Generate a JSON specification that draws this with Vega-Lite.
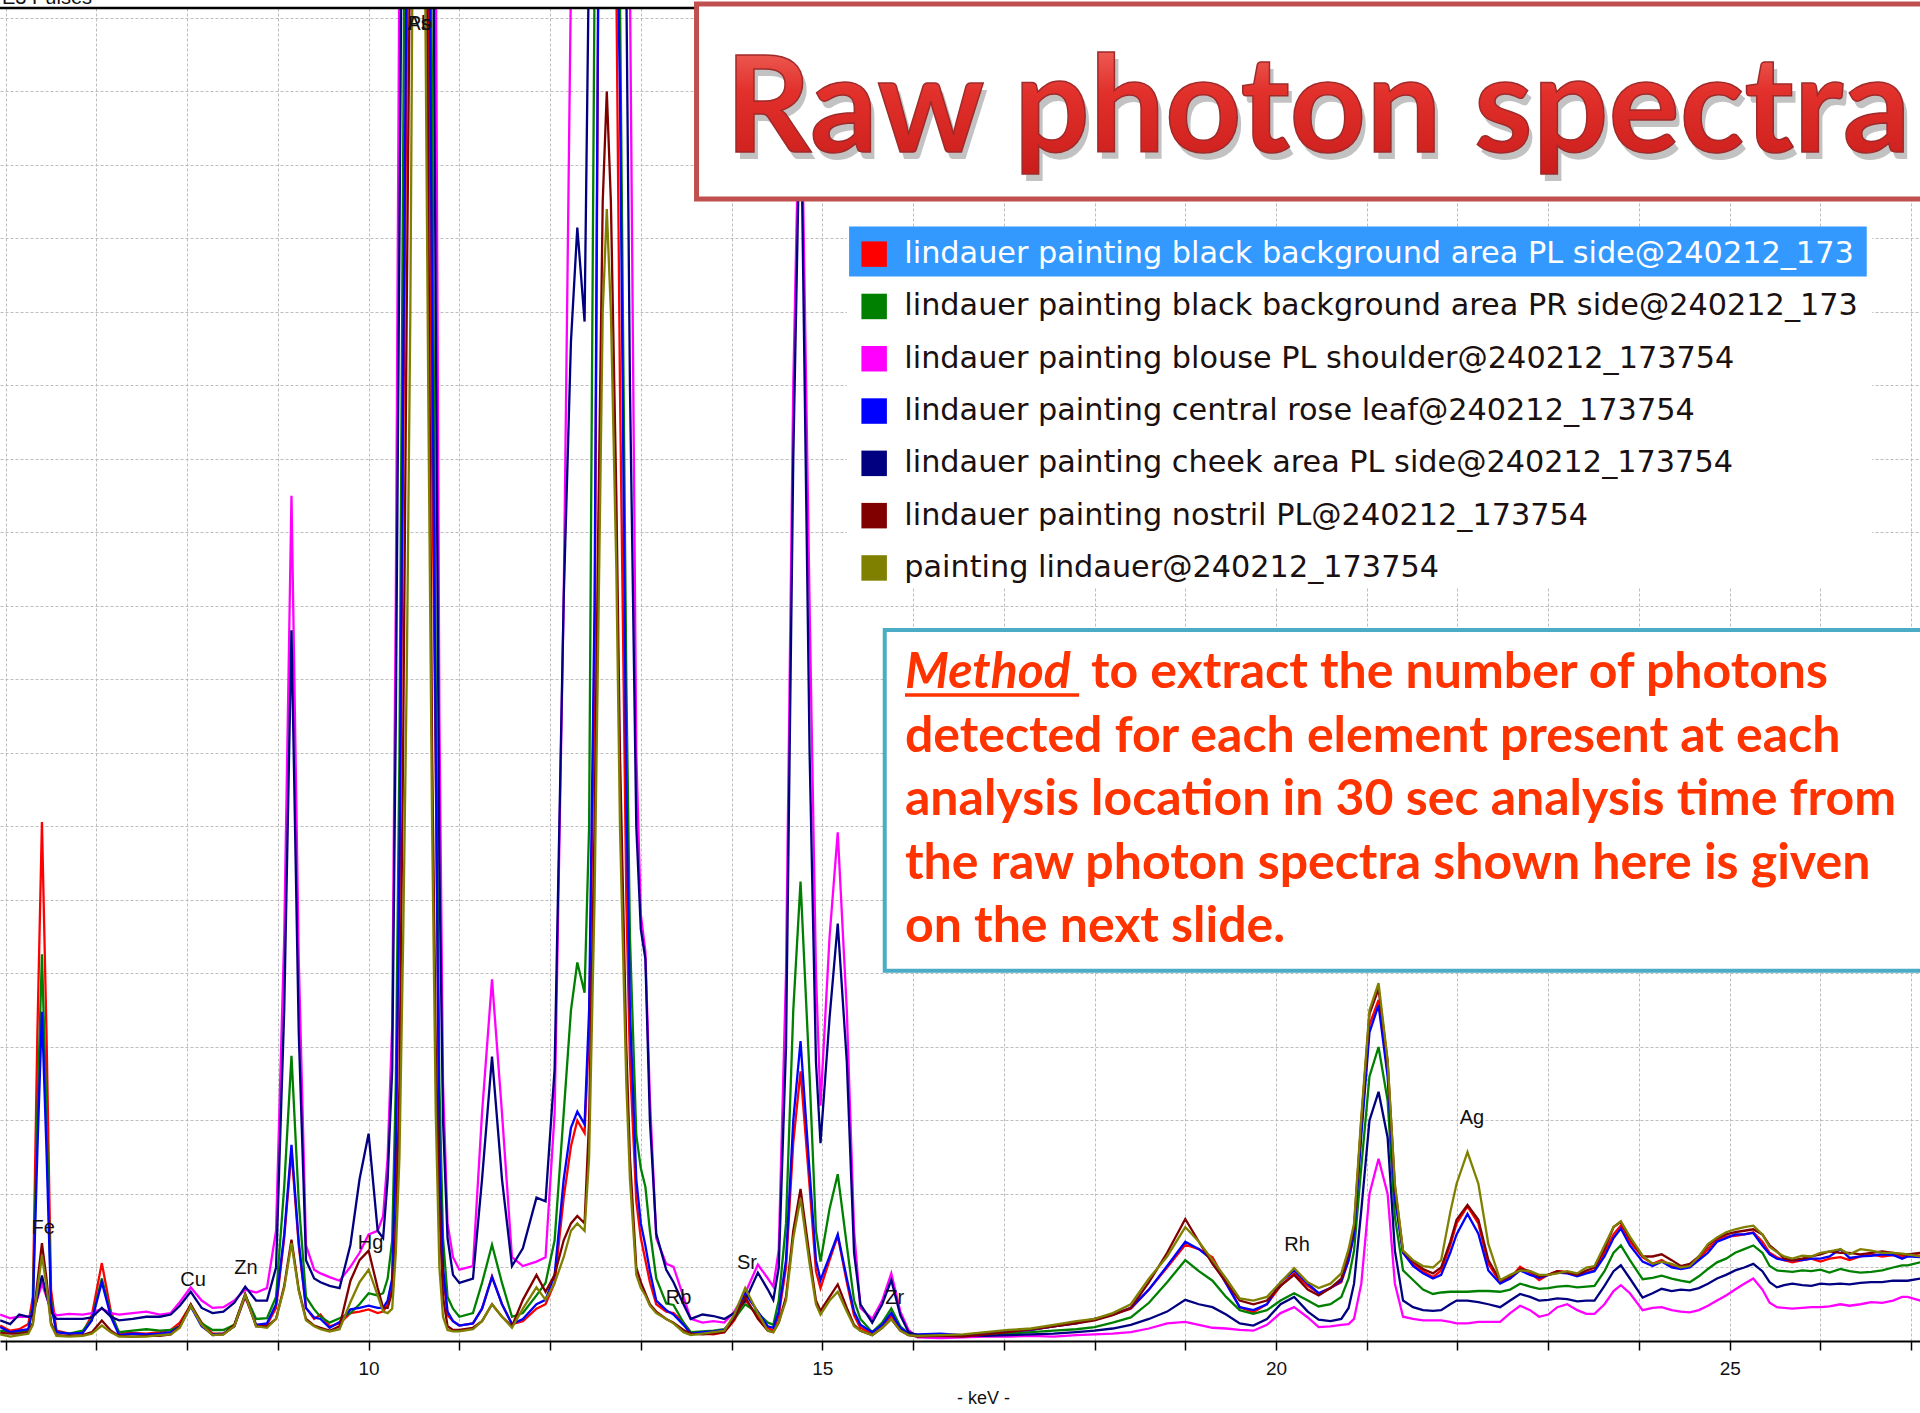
{
"$schema": "https://vega.github.io/schema/vega-lite/v6.json",
"width": 1920, "height": 1333,
"autosize": {"type": "none"},
"padding": {"left": 0, "top": 8, "right": 0, "bottom": 72},
"background": "white",
"config": {"view": {"stroke": null}},
"datasets": {
"series": [
{"k":"R","name":"lindauer painting black background area PL side@240212_173754"},
{"k":"G","name":"lindauer painting black background area PR side@240212_173754"},
{"k":"M","name":"lindauer painting blouse PL shoulder@240212_173754"},
{"k":"B","name":"lindauer painting central rose leaf@240212_173754"},
{"k":"N","name":"lindauer painting cheek area PL side@240212_173754"},
{"k":"Mr","name":"lindauer painting nostril PL@240212_173754"},
{"k":"O","name":"painting lindauer@240212_173754"}
],
"elements": [
{"el":"Fe","kev":6.414,"cnt":1.537},
{"el":"Cu","kev":8.065,"cnt":0.83},
{"el":"Zn","kev":8.649,"cnt":0.993},
{"el":"Hg","kev":10.021,"cnt":1.333},
{"el":"Rb","kev":13.416,"cnt":0.585},
{"el":"Sr","kev":14.17,"cnt":1.061},
{"el":"Zr","kev":15.797,"cnt":0.585},
{"el":"Rh","kev":20.231,"cnt":1.306},
{"el":"Ag","kev":22.16,"cnt":3.034},
{"el":"As","kev":10.555,"cnt":17.918},
{"el":"Pb","kev":10.565,"cnt":17.918}
],
"spec": [
{"e":5.94,"R":0.21,"G":0.14,"M":0.36,"B":0.19,"N":0.28,"Mr":0.11,"O":0.09},
{"e":6.05,"R":0.14,"G":0.12,"M":0.31,"B":0.12,"N":0.23,"Mr":0.10,"O":0.06},
{"e":6.15,"R":0.16,"G":0.12,"M":0.33,"B":0.14,"N":0.36,"Mr":0.10,"O":0.08},
{"e":6.25,"R":0.23,"G":0.14,"M":0.33,"B":0.16,"N":0.33,"Mr":0.12,"O":0.10},
{"e":6.30,"R":0.60,"G":0.50,"M":0.38,"B":0.45,"N":0.35,"Mr":0.25,"O":0.22},
{"e":6.35,"R":4.2,"G":3.1,"M":0.58,"B":2.6,"N":0.60,"Mr":0.80,"O":0.70},
{"e":6.40,"R":7.06,"G":5.26,"M":0.78,"B":4.48,"N":0.89,"Mr":1.33,"O":1.16},
{"e":6.45,"R":4.2,"G":3.1,"M":0.60,"B":2.6,"N":0.62,"Mr":0.85,"O":0.75},
{"e":6.50,"R":0.70,"G":0.55,"M":0.42,"B":0.50,"N":0.40,"Mr":0.25,"O":0.22},
{"e":6.56,"R":0.14,"G":0.12,"M":0.35,"B":0.12,"N":0.30,"Mr":0.08,"O":0.07},
{"e":6.70,"R":0.10,"G":0.10,"M":0.37,"B":0.10,"N":0.30,"Mr":0.07,"O":0.06},
{"e":6.85,"R":0.12,"G":0.14,"M":0.36,"B":0.11,"N":0.30,"Mr":0.08,"O":0.07},
{"e":6.95,"R":0.35,"G":0.30,"M":0.38,"B":0.28,"N":0.32,"Mr":0.12,"O":0.10},
{"e":7.06,"R":1.06,"G":0.85,"M":0.44,"B":0.80,"N":0.45,"Mr":0.28,"O":0.21},
{"e":7.16,"R":0.40,"G":0.36,"M":0.38,"B":0.33,"N":0.33,"Mr":0.14,"O":0.12},
{"e":7.25,"R":0.10,"G":0.12,"M":0.36,"B":0.08,"N":0.28,"Mr":0.07,"O":0.06},
{"e":7.40,"R":0.11,"G":0.14,"M":0.38,"B":0.10,"N":0.30,"Mr":0.06,"O":0.06},
{"e":7.55,"R":0.10,"G":0.16,"M":0.40,"B":0.09,"N":0.33,"Mr":0.07,"O":0.06},
{"e":7.70,"R":0.12,"G":0.14,"M":0.36,"B":0.10,"N":0.33,"Mr":0.07,"O":0.08},
{"e":7.82,"R":0.15,"G":0.15,"M":0.38,"B":0.12,"N":0.36,"Mr":0.09,"O":0.09},
{"e":7.92,"R":0.25,"G":0.20,"M":0.53,"B":0.20,"N":0.48,"Mr":0.20,"O":0.18},
{"e":8.04,"R":0.49,"G":0.49,"M":0.73,"B":0.47,"N":0.67,"Mr":0.50,"O":0.48},
{"e":8.16,"R":0.25,"G":0.24,"M":0.55,"B":0.20,"N":0.45,"Mr":0.22,"O":0.22},
{"e":8.28,"R":0.10,"G":0.15,"M":0.45,"B":0.09,"N":0.38,"Mr":0.08,"O":0.08},
{"e":8.40,"R":0.10,"G":0.15,"M":0.46,"B":0.10,"N":0.40,"Mr":0.09,"O":0.09},
{"e":8.52,"R":0.20,"G":0.22,"M":0.55,"B":0.20,"N":0.52,"Mr":0.22,"O":0.20},
{"e":8.64,"R":0.60,"G":0.63,"M":0.70,"B":0.62,"N":0.74,"Mr":0.64,"O":0.63},
{"e":8.76,"R":0.22,"G":0.30,"M":0.66,"B":0.22,"N":0.55,"Mr":0.20,"O":0.20},
{"e":8.88,"R":0.22,"G":0.31,"M":0.72,"B":0.24,"N":0.55,"Mr":0.20,"O":0.18},
{"e":8.98,"R":0.45,"G":0.60,"M":1.5,"B":0.50,"N":1.0,"Mr":0.30,"O":0.30},
{"e":9.07,"R":1.4,"G":2.1,"M":5.5,"B":1.45,"N":4.5,"Mr":0.75,"O":0.72},
{"e":9.15,"R":2.58,"G":3.88,"M":11.5,"B":2.67,"N":9.67,"Mr":1.38,"O":1.33},
{"e":9.23,"R":1.3,"G":1.9,"M":5.2,"B":1.35,"N":4.2,"Mr":0.70,"O":0.68},
{"e":9.31,"R":0.45,"G":0.60,"M":1.3,"B":0.45,"N":1.1,"Mr":0.30,"O":0.28},
{"e":9.40,"R":0.30,"G":0.43,"M":0.97,"B":0.32,"N":0.85,"Mr":0.21,"O":0.20},
{"e":9.47,"R":0.36,"G":0.33,"M":0.92,"B":0.30,"N":0.80,"Mr":0.18,"O":0.16},
{"e":9.57,"R":0.20,"G":0.25,"M":0.87,"B":0.18,"N":0.75,"Mr":0.14,"O":0.13},
{"e":9.68,"R":0.24,"G":0.31,"M":0.82,"B":0.26,"N":0.72,"Mr":0.20,"O":0.16},
{"e":9.80,"R":0.38,"G":0.38,"M":1.01,"B":0.43,"N":1.31,"Mr":0.82,"O":0.53},
{"e":9.90,"R":0.40,"G":0.50,"M":1.2,"B":0.45,"N":2.2,"Mr":1.1,"O":0.80},
{"e":10.00,"R":0.43,"G":0.65,"M":1.45,"B":0.48,"N":2.82,"Mr":1.23,"O":0.97},
{"e":10.10,"R":0.38,"G":0.62,"M":1.5,"B":0.45,"N":1.5,"Mr":0.72,"O":0.62},
{"e":10.16,"R":0.40,"G":0.65,"M":1.7,"B":0.45,"N":1.4,"Mr":0.45,"O":0.40},
{"e":10.21,"R":0.50,"G":0.85,"M":2.5,"B":0.55,"N":2.2,"Mr":0.45,"O":0.38},
{"e":10.26,"R":0.8,"G":1.37,"M":4.3,"B":0.85,"N":3.7,"Mr":0.67,"O":0.44},
{"e":10.30,"R":2.5,"G":3.5,"M":10.1,"B":2.7,"N":8.5,"Mr":1.5,"O":1.2},
{"e":10.34,"R":6,"G":8,"M":19,"B":6.5,"N":15,"Mr":3.5,"O":2.5},
{"e":10.38,"R":12,"G":16,"M":30,"B":13,"N":22,"Mr":8,"O":5.4},
{"e":10.42,"R":17.5,"G":24,"M":40,"B":19,"N":35,"Mr":14,"O":9},
{"e":10.46,"R":24,"G":35,"M":45,"B":27,"N":45,"Mr":19.5,"O":14},
{"e":10.51,"R":40,"G":45,"M":45,"B":40,"N":45,"Mr":35,"O":24},
{"e":10.57,"R":45,"G":45,"M":45,"B":45,"N":45,"Mr":45,"O":40},
{"e":10.62,"R":33,"G":35,"M":40,"B":33,"N":40,"Mr":24,"O":19},
{"e":10.66,"R":19,"G":22,"M":35,"B":21,"N":33,"Mr":15,"O":12.5},
{"e":10.70,"R":12,"G":17,"M":25,"B":14,"N":22,"Mr":8,"O":7},
{"e":10.74,"R":7.8,"G":9,"M":19,"B":8,"N":14,"Mr":4,"O":3.1},
{"e":10.78,"R":2.5,"G":3.5,"M":8.5,"B":2.6,"N":6.5,"Mr":1.8,"O":1.0},
{"e":10.82,"R":0.9,"G":1.4,"M":3.5,"B":1.0,"N":3.0,"Mr":0.6,"O":0.33},
{"e":10.87,"R":0.35,"G":0.6,"M":1.6,"B":0.4,"N":1.4,"Mr":0.2,"O":0.15},
{"e":10.93,"R":0.27,"G":0.44,"M":1.14,"B":0.27,"N":0.9,"Mr":0.15,"O":0.13},
{"e":11.00,"R":0.21,"G":0.33,"M":0.97,"B":0.21,"N":0.79,"Mr":0.15,"O":0.13},
{"e":11.15,"R":0.24,"G":0.38,"M":1.02,"B":0.24,"N":0.85,"Mr":0.18,"O":0.16},
{"e":11.25,"R":0.44,"G":0.79,"M":3.1,"B":0.44,"N":2.2,"Mr":0.27,"O":0.27},
{"e":11.36,"R":0.88,"G":1.31,"M":4.92,"B":0.87,"N":3.87,"Mr":0.50,"O":0.50},
{"e":11.47,"R":0.50,"G":0.79,"M":3.1,"B":0.50,"N":2.2,"Mr":0.33,"O":0.33},
{"e":11.58,"R":0.23,"G":0.33,"M":1.14,"B":0.23,"N":1.02,"Mr":0.20,"O":0.18},
{"e":11.70,"R":0.27,"G":0.38,"M":1.02,"B":0.30,"N":1.26,"Mr":0.56,"O":0.44},
{"e":11.85,"R":0.44,"G":0.62,"M":1.08,"B":0.50,"N":1.95,"Mr":0.90,"O":0.73},
{"e":11.95,"R":0.50,"G":0.79,"M":1.14,"B":0.56,"N":1.90,"Mr":0.67,"O":0.56},
{"e":12.05,"R":0.79,"G":1.37,"M":3.1,"B":0.90,"N":3.7,"Mr":0.90,"O":0.79},
{"e":12.15,"R":1.95,"G":3.1,"M":10.1,"B":2.2,"N":10.1,"Mr":1.37,"O":1.14},
{"e":12.23,"R":2.65,"G":4.5,"M":18.5,"B":2.9,"N":13.6,"Mr":1.6,"O":1.5},
{"e":12.30,"R":3.0,"G":5.15,"M":30,"B":3.12,"N":15.15,"Mr":1.7,"O":1.6},
{"e":12.38,"R":2.83,"G":4.74,"M":40,"B":2.95,"N":13.87,"Mr":1.6,"O":1.5},
{"e":12.43,"R":4.2,"G":7,"M":45,"B":4.5,"N":19,"Mr":3,"O":2.5},
{"e":12.49,"R":9,"G":18.5,"M":50,"B":10,"N":30,"Mr":7,"O":6},
{"e":12.53,"R":18.2,"G":25,"M":50,"B":18.5,"N":40,"Mr":11,"O":9.5},
{"e":12.58,"R":35,"G":35,"M":50,"B":35,"N":45,"Mr":15.5,"O":14},
{"e":12.625,"R":45,"G":45,"M":50,"B":45,"N":50,"Mr":17.0,"O":15.4},
{"e":12.67,"R":25,"G":30,"M":45,"B":28,"N":40,"Mr":15.5,"O":14},
{"e":12.73,"R":18.5,"G":22,"M":40,"B":20,"N":30,"Mr":11.5,"O":10.5},
{"e":12.77,"R":13,"G":18.3,"M":33,"B":17,"N":25,"Mr":8,"O":7},
{"e":12.84,"R":6,"G":9,"M":25,"B":7.5,"N":18.5,"Mr":4,"O":3.5},
{"e":12.88,"R":3.8,"G":5.5,"M":18.5,"B":4.5,"N":13,"Mr":2.5,"O":2.2},
{"e":12.95,"R":1.9,"G":2.8,"M":8,"B":2.2,"N":7,"Mr":1.0,"O":0.9},
{"e":13.00,"R":1.4,"G":2.35,"M":5.8,"B":1.6,"N":5.6,"Mr":0.8,"O":0.72},
{"e":13.05,"R":1.1,"G":2.1,"M":5.3,"B":1.3,"N":5.2,"Mr":0.65,"O":0.62},
{"e":13.10,"R":0.8,"G":1.5,"M":3.3,"B":0.95,"N":3.0,"Mr":0.5,"O":0.48},
{"e":13.17,"R":0.5,"G":0.85,"M":1.4,"B":0.55,"N":1.46,"Mr":0.4,"O":0.38},
{"e":13.28,"R":0.4,"G":0.51,"M":1.05,"B":0.42,"N":0.97,"Mr":0.3,"O":0.3},
{"e":13.36,"R":0.38,"G":0.49,"M":1.01,"B":0.36,"N":0.8,"Mr":0.25,"O":0.24},
{"e":13.47,"R":0.25,"G":0.25,"M":0.6,"B":0.22,"N":0.5,"Mr":0.15,"O":0.12},
{"e":13.55,"R":0.12,"G":0.12,"M":0.3,"B":0.1,"N":0.3,"Mr":0.1,"O":0.08},
{"e":13.68,"R":0.1,"G":0.13,"M":0.25,"B":0.12,"N":0.36,"Mr":0.09,"O":0.1},
{"e":13.80,"R":0.09,"G":0.14,"M":0.27,"B":0.13,"N":0.34,"Mr":0.1,"O":0.12},
{"e":13.92,"R":0.12,"G":0.16,"M":0.25,"B":0.15,"N":0.3,"Mr":0.12,"O":0.14},
{"e":14.03,"R":0.28,"G":0.3,"M":0.4,"B":0.32,"N":0.38,"Mr":0.3,"O":0.36},
{"e":14.15,"R":0.56,"G":0.5,"M":0.65,"B":0.65,"N":0.55,"Mr":0.6,"O":0.72},
{"e":14.29,"R":0.33,"G":0.38,"M":1.04,"B":0.4,"N":0.93,"Mr":0.3,"O":0.38},
{"e":14.40,"R":0.18,"G":0.25,"M":0.85,"B":0.2,"N":0.7,"Mr":0.14,"O":0.14},
{"e":14.46,"R":0.14,"G":0.22,"M":0.74,"B":0.18,"N":0.56,"Mr":0.12,"O":0.12},
{"e":14.52,"R":0.35,"G":0.55,"M":1.24,"B":0.4,"N":1.0,"Mr":0.25,"O":0.25},
{"e":14.60,"R":1.0,"G":1.6,"M":5,"B":1.1,"N":4,"Mr":0.6,"O":0.55},
{"e":14.68,"R":2.7,"G":4.5,"M":13,"B":3.0,"N":12,"Mr":1.5,"O":1.4},
{"e":14.76,"R":3.67,"G":6.25,"M":17.8,"B":4.08,"N":17.2,"Mr":2.07,"O":1.94},
{"e":14.86,"R":2.1,"G":3.6,"M":10,"B":2.3,"N":8,"Mr":1.15,"O":1.05},
{"e":14.93,"R":0.95,"G":1.5,"M":5,"B":1.1,"N":3.8,"Mr":0.55,"O":0.5},
{"e":14.98,"R":0.72,"G":1.08,"M":3.2,"B":0.83,"N":2.69,"Mr":0.41,"O":0.36},
{"e":15.08,"R":1.1,"G":1.8,"M":5.5,"B":1.15,"N":4.4,"Mr":0.6,"O":0.55},
{"e":15.17,"R":1.43,"G":2.27,"M":6.92,"B":1.45,"N":5.68,"Mr":0.77,"O":0.67},
{"e":15.27,"R":0.8,"G":1.3,"M":4.5,"B":0.85,"N":3.8,"Mr":0.45,"O":0.4},
{"e":15.35,"R":0.35,"G":0.55,"M":1.5,"B":0.4,"N":1.2,"Mr":0.22,"O":0.2},
{"e":15.42,"R":0.18,"G":0.3,"M":0.45,"B":0.22,"N":0.5,"Mr":0.14,"O":0.14},
{"e":15.55,"R":0.1,"G":0.12,"M":0.3,"B":0.12,"N":0.25,"Mr":0.08,"O":0.08},
{"e":15.66,"R":0.2,"G":0.25,"M":0.55,"B":0.22,"N":0.5,"Mr":0.18,"O":0.18},
{"e":15.76,"R":0.35,"G":0.44,"M":0.92,"B":0.38,"N":0.83,"Mr":0.3,"O":0.3},
{"e":15.86,"R":0.18,"G":0.2,"M":0.4,"B":0.18,"N":0.35,"Mr":0.14,"O":0.14},
{"e":15.95,"R":0.1,"G":0.1,"M":0.15,"B":0.1,"N":0.12,"Mr":0.08,"O":0.08},
{"e":16.05,"R":0.06,"G":0.07,"M":0.05,"B":0.09,"N":0.08,"Mr":0.06,"O":0.07},
{"e":16.3,"R":0.07,"G":0.06,"M":0.04,"B":0.1,"N":0.07,"Mr":0.07,"O":0.08},
{"e":16.55,"R":0.08,"G":0.07,"M":0.05,"B":0.08,"N":0.08,"Mr":0.06,"O":0.09},
{"e":16.8,"R":0.1,"G":0.08,"M":0.06,"B":0.1,"N":0.07,"Mr":0.09,"O":0.12},
{"e":17.05,"R":0.12,"G":0.1,"M":0.06,"B":0.13,"N":0.08,"Mr":0.12,"O":0.15},
{"e":17.3,"R":0.15,"G":0.12,"M":0.07,"B":0.15,"N":0.09,"Mr":0.16,"O":0.17},
{"e":17.55,"R":0.2,"G":0.14,"M":0.06,"B":0.2,"N":0.1,"Mr":0.2,"O":0.22},
{"e":17.8,"R":0.25,"G":0.16,"M":0.08,"B":0.24,"N":0.12,"Mr":0.24,"O":0.27},
{"e":18.0,"R":0.3,"G":0.19,"M":0.09,"B":0.3,"N":0.14,"Mr":0.28,"O":0.3},
{"e":18.2,"R":0.36,"G":0.25,"M":0.1,"B":0.36,"N":0.17,"Mr":0.35,"O":0.38},
{"e":18.4,"R":0.44,"G":0.32,"M":0.12,"B":0.45,"N":0.22,"Mr":0.45,"O":0.5},
{"e":18.6,"R":0.7,"G":0.52,"M":0.17,"B":0.7,"N":0.3,"Mr":0.8,"O":0.85},
{"e":18.8,"R":1.0,"G":0.8,"M":0.24,"B":1.02,"N":0.4,"Mr":1.2,"O":1.15},
{"e":19.0,"R":1.31,"G":1.1,"M":0.26,"B":1.35,"N":0.56,"Mr":1.66,"O":1.55},
{"e":19.15,"R":1.25,"G":0.95,"M":0.22,"B":1.25,"N":0.5,"Mr":1.35,"O":1.35},
{"e":19.3,"R":1.14,"G":0.82,"M":0.18,"B":1.1,"N":0.46,"Mr":1.05,"O":1.1},
{"e":19.45,"R":0.8,"G":0.6,"M":0.17,"B":0.78,"N":0.36,"Mr":0.8,"O":0.85},
{"e":19.6,"R":0.46,"G":0.42,"M":0.15,"B":0.46,"N":0.24,"Mr":0.55,"O":0.58},
{"e":19.75,"R":0.39,"G":0.37,"M":0.14,"B":0.42,"N":0.21,"Mr":0.5,"O":0.55},
{"e":19.9,"R":0.5,"G":0.42,"M":0.22,"B":0.5,"N":0.3,"Mr":0.55,"O":0.6},
{"e":20.05,"R":0.75,"G":0.55,"M":0.38,"B":0.8,"N":0.5,"Mr":0.75,"O":0.8},
{"e":20.2,"R":0.92,"G":0.65,"M":0.46,"B":0.96,"N":0.6,"Mr":0.9,"O":0.99},
{"e":20.35,"R":0.75,"G":0.55,"M":0.32,"B":0.78,"N":0.4,"Mr":0.7,"O":0.8},
{"e":20.47,"R":0.65,"G":0.47,"M":0.19,"B":0.65,"N":0.29,"Mr":0.62,"O":0.72},
{"e":20.6,"R":0.72,"G":0.5,"M":0.2,"B":0.72,"N":0.27,"Mr":0.72,"O":0.78},
{"e":20.72,"R":0.8,"G":0.6,"M":0.22,"B":0.82,"N":0.3,"Mr":0.85,"O":0.92},
{"e":20.8,"R":1.1,"G":0.85,"M":0.23,"B":1.1,"N":0.45,"Mr":1.2,"O":1.25},
{"e":20.86,"R":1.5,"G":1.23,"M":0.3,"B":1.45,"N":0.78,"Mr":1.55,"O":1.6},
{"e":20.94,"R":2.9,"G":2.37,"M":0.78,"B":2.8,"N":1.78,"Mr":3.0,"O":3.05},
{"e":21.03,"R":4.3,"G":3.6,"M":2.0,"B":4.2,"N":3.0,"Mr":4.45,"O":4.5},
{"e":21.13,"R":4.64,"G":4.0,"M":2.48,"B":4.57,"N":3.39,"Mr":4.79,"O":4.87},
{"e":21.23,"R":3.7,"G":3.27,"M":2.0,"B":3.6,"N":2.77,"Mr":3.8,"O":3.82},
{"e":21.31,"R":2.0,"G":1.69,"M":0.78,"B":1.95,"N":1.23,"Mr":2.1,"O":2.14},
{"e":21.4,"R":1.2,"G":0.96,"M":0.33,"B":1.2,"N":0.55,"Mr":1.22,"O":1.23},
{"e":21.51,"R":1.05,"G":0.83,"M":0.3,"B":1.02,"N":0.46,"Mr":1.08,"O":1.1},
{"e":21.62,"R":0.95,"G":0.7,"M":0.28,"B":0.92,"N":0.42,"Mr":0.98,"O":1.02},
{"e":21.73,"R":0.87,"G":0.64,"M":0.28,"B":0.85,"N":0.41,"Mr":0.92,"O":1.0},
{"e":21.82,"R":0.96,"G":0.66,"M":0.28,"B":0.9,"N":0.42,"Mr":1.0,"O":1.1},
{"e":21.92,"R":1.3,"G":0.67,"M":0.26,"B":1.2,"N":0.5,"Mr":1.35,"O":1.75},
{"e":21.99,"R":1.6,"G":0.67,"M":0.24,"B":1.45,"N":0.55,"Mr":1.65,"O":2.14},
{"e":22.11,"R":1.83,"G":0.67,"M":0.24,"B":1.73,"N":0.55,"Mr":1.85,"O":2.57},
{"e":22.23,"R":1.6,"G":0.68,"M":0.26,"B":1.46,"N":0.53,"Mr":1.65,"O":2.14},
{"e":22.34,"R":1.05,"G":0.68,"M":0.26,"B":0.96,"N":0.5,"Mr":1.1,"O":1.32},
{"e":22.47,"R":0.8,"G":0.67,"M":0.26,"B":0.78,"N":0.46,"Mr":0.82,"O":0.83},
{"e":22.58,"R":0.85,"G":0.7,"M":0.38,"B":0.85,"N":0.55,"Mr":0.88,"O":0.9},
{"e":22.69,"R":1.01,"G":0.78,"M":0.48,"B":0.96,"N":0.64,"Mr":0.98,"O":0.96},
{"e":22.8,"R":0.93,"G":0.74,"M":0.42,"B":0.9,"N":0.6,"Mr":0.95,"O":0.95},
{"e":22.9,"R":0.83,"G":0.71,"M":0.33,"B":0.86,"N":0.55,"Mr":0.88,"O":0.9},
{"e":23.0,"R":0.9,"G":0.72,"M":0.36,"B":0.9,"N":0.56,"Mr":0.9,"O":0.9},
{"e":23.1,"R":0.95,"G":0.74,"M":0.46,"B":0.93,"N":0.58,"Mr":0.95,"O":0.92},
{"e":23.21,"R":0.94,"G":0.75,"M":0.5,"B":0.92,"N":0.57,"Mr":0.93,"O":0.95},
{"e":23.32,"R":0.9,"G":0.73,"M":0.42,"B":0.88,"N":0.54,"Mr":0.9,"O":0.92},
{"e":23.42,"R":0.93,"G":0.74,"M":0.37,"B":0.92,"N":0.55,"Mr":0.96,"O":1.0},
{"e":23.51,"R":0.96,"G":0.75,"M":0.37,"B":0.95,"N":0.55,"Mr":1.0,"O":1.02},
{"e":23.62,"R":1.2,"G":0.95,"M":0.5,"B":1.15,"N":0.75,"Mr":1.25,"O":1.3},
{"e":23.72,"R":1.45,"G":1.2,"M":0.68,"B":1.4,"N":0.95,"Mr":1.55,"O":1.55},
{"e":23.8,"R":1.57,"G":1.3,"M":0.76,"B":1.53,"N":1.03,"Mr":1.62,"O":1.63},
{"e":23.9,"R":1.35,"G":1.1,"M":0.65,"B":1.3,"N":0.85,"Mr":1.4,"O":1.42},
{"e":24.04,"R":1.14,"G":0.84,"M":0.42,"B":1.08,"N":0.59,"Mr":1.15,"O":1.16},
{"e":24.15,"R":1.05,"G":0.86,"M":0.45,"B":1.02,"N":0.65,"Mr":1.15,"O":1.05},
{"e":24.25,"R":1.1,"G":0.89,"M":0.46,"B":1.08,"N":0.71,"Mr":1.18,"O":1.08},
{"e":24.36,"R":1.02,"G":0.85,"M":0.42,"B":1.0,"N":0.68,"Mr":1.1,"O":1.05},
{"e":24.46,"R":1.0,"G":0.82,"M":0.4,"B":0.98,"N":0.7,"Mr":1.02,"O":1.0},
{"e":24.56,"R":1.03,"G":0.8,"M":0.39,"B":1.0,"N":0.69,"Mr":1.05,"O":1.02},
{"e":24.66,"R":1.12,"G":0.88,"M":0.42,"B":1.1,"N":0.72,"Mr":1.15,"O":1.15},
{"e":24.76,"R":1.25,"G":0.98,"M":0.48,"B":1.2,"N":0.78,"Mr":1.3,"O":1.32},
{"e":24.86,"R":1.37,"G":1.07,"M":0.55,"B":1.35,"N":0.85,"Mr":1.4,"O":1.41},
{"e":24.96,"R":1.42,"G":1.12,"M":0.62,"B":1.4,"N":0.9,"Mr":1.45,"O":1.48},
{"e":25.06,"R":1.43,"G":1.2,"M":0.7,"B":1.45,"N":0.96,"Mr":1.48,"O":1.52},
{"e":25.16,"R":1.45,"G":1.25,"M":0.78,"B":1.45,"N":1.0,"Mr":1.5,"O":1.55},
{"e":25.26,"R":1.48,"G":1.3,"M":0.85,"B":1.47,"N":1.05,"Mr":1.52,"O":1.57},
{"e":25.36,"R":1.35,"G":1.2,"M":0.7,"B":1.3,"N":0.95,"Mr":1.45,"O":1.45},
{"e":25.44,"R":1.2,"G":1.02,"M":0.52,"B":1.18,"N":0.8,"Mr":1.3,"O":1.28},
{"e":25.52,"R":1.14,"G":0.96,"M":0.46,"B":1.12,"N":0.73,"Mr":1.22,"O":1.21},
{"e":25.6,"R":1.1,"G":0.95,"M":0.45,"B":1.1,"N":0.76,"Mr":1.12,"O":1.15},
{"e":25.69,"R":1.07,"G":0.94,"M":0.44,"B":1.1,"N":0.78,"Mr":1.1,"O":1.12},
{"e":25.8,"R":1.1,"G":0.96,"M":0.45,"B":1.1,"N":0.76,"Mr":1.12,"O":1.16},
{"e":25.9,"R":1.12,"G":0.95,"M":0.46,"B":1.12,"N":0.75,"Mr":1.15,"O":1.15},
{"e":26.0,"R":1.08,"G":0.97,"M":0.46,"B":1.12,"N":0.78,"Mr":1.18,"O":1.2},
{"e":26.1,"R":1.12,"G":0.93,"M":0.47,"B":1.15,"N":0.77,"Mr":1.22,"O":1.22},
{"e":26.22,"R":1.14,"G":0.98,"M":0.5,"B":1.25,"N":0.78,"Mr":1.2,"O":1.25},
{"e":26.32,"R":1.1,"G":0.95,"M":0.48,"B":1.13,"N":0.77,"Mr":1.2,"O":1.18},
{"e":26.44,"R":1.15,"G":0.93,"M":0.5,"B":1.15,"N":0.79,"Mr":1.18,"O":1.25},
{"e":26.56,"R":1.18,"G":0.94,"M":0.53,"B":1.16,"N":0.8,"Mr":1.2,"O":1.23},
{"e":26.68,"R":1.15,"G":0.96,"M":0.52,"B":1.18,"N":0.8,"Mr":1.22,"O":1.2},
{"e":26.8,"R":1.17,"G":1.0,"M":0.55,"B":1.17,"N":0.82,"Mr":1.2,"O":1.2},
{"e":26.9,"R":1.15,"G":1.03,"M":0.6,"B":1.12,"N":0.82,"Mr":1.18,"O":1.19},
{"e":26.96,"R":1.18,"G":1.03,"M":0.6,"B":1.15,"N":0.82,"Mr":1.18,"O":1.18},
{"e":27.1,"R":1.16,"G":1.07,"M":0.55,"B":1.14,"N":0.85,"Mr":1.2,"O":1.15}
]
},
"layer": [
{
"data": {"name": "series"},
"mark": {"type": "square", "opacity": 0},
"encoding": {
"color": {"field": "name", "type": "nominal",
"scale": {"domain": ["lindauer painting black background area PL side@240212_173754","lindauer painting black background area PR side@240212_173754","lindauer painting blouse PL shoulder@240212_173754","lindauer painting central rose leaf@240212_173754","lindauer painting cheek area PL side@240212_173754","lindauer painting nostril PL@240212_173754","painting lindauer@240212_173754"],
"range": ["#FF0000","#008000","#FF00FF","#0000FF","#000080","#800000","#808000"]},
"legend": {"orient": "none", "legendX": 859, "legendY": 231, "title": null, "padding": 0,
"symbolType": "square", "symbolSize": 650, "symbolStrokeWidth": 0, "symbolOpacity": 1,
"labelFont": "DejaVu Sans", "labelFontSize": 30.3,
"labelColor": {"expr": "datum.value === 'lindauer painting black background area PL side@240212_173754' ? '#ffffff' : '#1a1010'"},
"labelExpr": "indexof(datum.label, 'background') > 0 ? slice(datum.label, 0, -3) : datum.label",
"labelLimit": 1200, "labelOffset": 15, "rowPadding": 21.3}
}
}
},
{
"data": {"name": "spec"},
"transform": [
{"fold": ["R","G","M","B","N","Mr","O"], "as": ["k","v"]},
{"lookup": "k", "from": {"data": {"name": "series"}, "key": "k", "fields": ["name"]}}
],
"mark": {"type": "line", "strokeWidth": 2.3, "clip": true},
"encoding": {
"x": {"field": "e", "type": "quantitative",
"scale": {"domain": [5.9378, 27.097], "nice": false, "zero": false},
"axis": {"values": [6,7,8,9,10,11,12,13,14,15,16,17,18,19,20,21,22,23,24,25,26,27],
"format": "d",
"labelExpr": "datum.value % 5 === 0 ? datum.label : ''",
"title": "- keV -", "titleFont": "Liberation Sans", "titleFontSize": 18, "titleFontWeight": "normal", "titleColor": "#111",
"titleX": 983, "titleY": 57, "titleBaseline": "middle", "titleAlign": "center", "titleAnchor": null,
"labelFont": "Liberation Sans", "labelFontSize": 19, "labelColor": "#111", "labelPadding": 9,
"domain": true, "domainColor": "#000", "domainWidth": 2,
"ticks": true, "tickColor": "#000", "tickSize": 9, "tickWidth": 1.5,
"grid": true, "gridColor": "#bdbdbd", "gridDash": [3, 2], "gridWidth": 1}},
"y": {"field": "v", "type": "quantitative",
"scale": {"domain": [0, 18.136], "nice": false, "zero": false},
"axis": {"values": [1,2,3,4,5,6,7,8,9,10,11,12,13,14,15,16,17,18], "grid": true, "gridColor": "#bdbdbd", "gridDash": [3, 2], "gridWidth": 1,
"domain": false, "ticks": false, "labels": false, "title": null}},
"color": {"field": "name", "type": "nominal", "legend": null},
"detail": {"field": "k"}
}
},
{
"data": {"values": [{}]},
"mark": {"type": "rule", "color": "#000", "strokeWidth": 2.5},
"encoding": {"y": {"datum": 18.136}}
},
{
"data": {"values": [{}]},
"mark": {"type": "text", "font": "Liberation Sans", "fontSize": 20, "align": "left", "baseline": "alphabetic", "color": "#111"},
"encoding": {"x": {"datum": 5.96}, "y": {"datum": 18.19}, "text": {"value": "E3 Pulses"}}
},
{
"data": {"values": [{}]},
"mark": {"type": "rect", "fill": "#ffffff", "stroke": null},
"encoding": {"x": {"datum": 15.272}, "x2": {"datum": 26.57}, "y": {"datum": 15.157}, "y2": {"datum": 10.245}}
},
{
"data": {"values": [{}]},
"mark": {"type": "rect", "fill": "#3399FF"},
"encoding": {"x": {"datum": 15.295}, "x2": {"datum": 26.51}, "y": {"datum": 15.163}, "y2": {"datum": 14.483}}
},
{
"data": {"values": [{}]},
"mark": {"type": "rect", "fill": "#ffffff", "stroke": "#C0504D", "strokeWidth": 5},
"encoding": {"x": {"datum": 13.614}, "x2": {"datum": 27.4}, "y": {"datum": 18.19}, "y2": {"datum": 15.537}}
},
{
"data": {"values": [{}]},
"mark": {"type": "text", "font": "Lato", "fontWeight": "bold", "fontSize": 133.5, "align": "left", "baseline": "alphabetic", "color": "#7a7a7a", "opacity": 0.45, "dx": 4, "dy": 7},
"encoding": {"x": {"datum": 13.93}, "y": {"datum": 16.177}, "text": {"value": "Raw photon spectra"}}
},
{
"data": {"values": [{}]},
"mark": {"type": "text", "font": "Lato", "fontWeight": "bold", "fontSize": 133.5, "align": "left", "baseline": "alphabetic",
"fill": {"gradient": "linear", "x1": 0, "y1": 0, "x2": 0, "y2": 1, "stops": [{"offset": 0, "color": "#F47A70"}, {"offset": 0.45, "color": "#E2302B"}, {"offset": 1, "color": "#C81C1A"}]},
"stroke": "#9E2A2A", "strokeWidth": 1.5},
"encoding": {"x": {"datum": 13.93}, "y": {"datum": 16.177}, "text": {"value": "Raw photon spectra"}}
},
{
"data": {"values": [{}]},
"mark": {"type": "rect", "fill": "#ffffff", "stroke": "#4BACC6", "strokeWidth": 4},
"encoding": {"x": {"datum": 15.688}, "x2": {"datum": 27.4}, "y": {"datum": 9.673}, "y2": {"datum": 5.038}}
},
{
"data": {"values": [{}]},
"mark": {"type": "text", "font": "Lato", "fontWeight": "bold", "fontStyle": "italic", "fontSize": 50, "align": "left", "baseline": "alphabetic", "color": "#FF3300"},
"encoding": {"x": {"datum": 15.911}, "y": {"datum": 8.884}, "text": {"value": "Method"}}
},
{
"data": {"values": [{}]},
"mark": {"type": "rule", "color": "#FF3300", "strokeWidth": 3.5},
"encoding": {"x": {"datum": 15.911}, "x2": {"datum": 17.83}, "y": {"datum": 8.789}}
},
{
"data": {"values": [{}]},
"mark": {"type": "text", "font": "Lato", "fontWeight": "bold", "fontSize": 50, "align": "left", "baseline": "alphabetic", "color": "#FF3300"},
"encoding": {"x": {"datum": 17.962}, "y": {"datum": 8.884}, "text": {"value": "to extract the number of photons"}}
},
{
"data": {"values": [{}]},
"mark": {"type": "text", "font": "Lato", "fontWeight": "bold", "fontSize": 50, "align": "left", "baseline": "alphabetic", "color": "#FF3300", "lineHeight": 63.5},
"encoding": {"x": {"datum": 15.911}, "y": {"datum": 8.014}, "text": {"value": ["detected for each element present at each", "analysis location in 30 sec analysis  time from", "the raw photon spectra shown here is given", "on the next slide."]}}
},
{
"data": {"name": "elements"},
"mark": {"type": "text", "font": "Liberation Sans", "fontSize": 20, "align": "center", "baseline": "middle", "color": "#111"},
"encoding": {"x": {"field": "kev", "type": "quantitative"}, "y": {"field": "cnt", "type": "quantitative"}, "text": {"field": "el"}}
}
]
}
